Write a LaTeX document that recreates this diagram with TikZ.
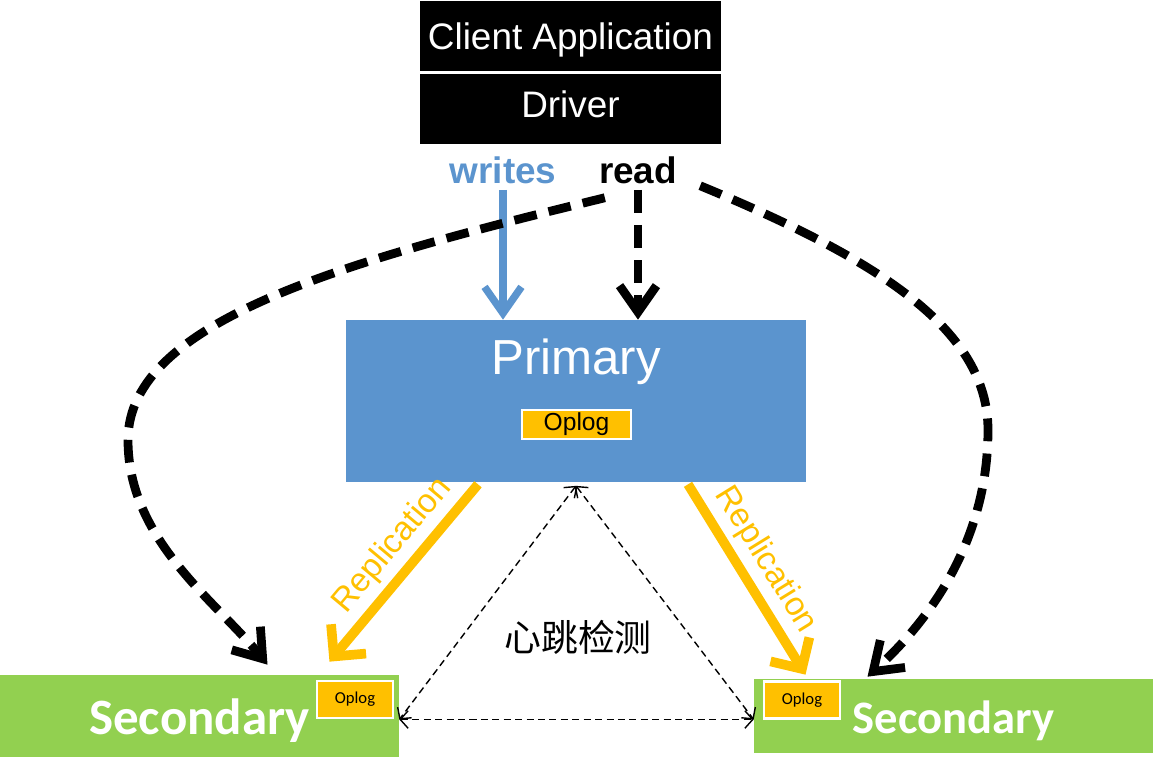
\documentclass[tikz,border=0pt]{standalone}
\usepackage{fontspec}
\setmainfont{Liberation Sans}
\newfontfamily\calibri{Carlito}
\newfontfamily\cjk{Noto Sans CJK SC}
\usetikzlibrary{arrows.meta, positioning}

\definecolor{primblue}{RGB}{91,148,206}
\definecolor{secgreen}{RGB}{146,208,80}
\definecolor{logyellow}{RGB}{255,192,0}

\begin{document}
\begin{tikzpicture}[x=0.02cm, y=-0.02cm,
    clientbox/.style={rectangle, fill=black, draw=white, line width=1pt, text=white, minimum width=6.06cm, minimum height=1.43cm, font=\fontsize{21}{25}\selectfont},
    primbox/.style={rectangle, fill=primblue, minimum width=9.2cm, minimum height=3.24cm},
    secbox/.style={rectangle, fill=secgreen, minimum width=7.98cm, text=white, text depth=0pt, font=\calibri\bfseries},
    oplog/.style={rectangle, fill=logyellow, draw=white, line width=1.2pt, text=black, inner sep=0pt},
    writearrow/.style={draw=primblue, line width=4.2pt, >={Straight Barb[length=15pt,width=21pt]}, ->},
    readarrow/.style={line width=5pt, dash pattern=on 13pt off 7pt, >={Straight Barb[length=15pt,width=21pt]}, ->},
    reparrow/.style={draw=logyellow, line width=5.5pt, >={Straight Barb[length=13pt,width=26pt]}, ->},
    beat/.style={line width=0.8pt, dash pattern=on 4pt off 2.5pt, >={Straight Barb[length=4.5pt,width=10pt]}, <->},
    replabel/.style={sloped, above, text=logyellow, font=\fontsize{19}{22}\selectfont}
]
\useasboundingbox (0,0) rectangle (1153,770);

\node[clientbox, text depth=0pt] (client) at (570.5,36) {Client Application};
\node[clientbox, text depth=6pt, below=0pt of client] (driver) {Driver};

\node[text=primblue, font=\bfseries\fontsize{21}{25}\selectfont] (writes) at (503,170) {writes};
\node[font=\bfseries\fontsize{21}{25}\selectfont] (read) at (638,170) {read};

\node[primbox] (primary) at (576,401) {};
\node[text=white, font=\fontsize{28}{33}\selectfont] (primtitle) at (576,362) {Primary};
\node[oplog, minimum width=2.18cm, minimum height=0.58cm, font=\fontsize{14}{16}\selectfont] (primlog) at (576.5,424.5) {Oplog};

\node[secbox, minimum height=1.64cm, text height=21.5pt, font=\calibri\bfseries\fontsize{29}{34}\selectfont] (secL) at (199.5,716) {Secondary};
\node[oplog, minimum width=1.52cm, minimum height=0.74cm, font=\calibri\fontsize{9.5}{11}\selectfont] (logL) at (355,699.5) {Oplog};
\node[secbox, minimum height=1.48cm, text height=19.5pt, font=\calibri\bfseries\fontsize{26.5}{31}\selectfont] (secR) at (953.5,716) {Secondary};
\node[oplog, minimum width=1.52cm, minimum height=0.74cm, font=\calibri\fontsize{9.5}{11}\selectfont] (logR) at (802,700) {Oplog};

\draw[writearrow] (writes.south) -- (writes.south |- primary.north);
\draw[readarrow] (read.south) -- (read.south |- primary.north);
\draw[readarrow] ([shift={(12,8)}]read.south west) .. controls (350,260) and (128,320) .. (128,440)
    .. controls (128,540) and (215,600) .. ([shift={(68,-10)}]secL.north);
\draw[readarrow] ([shift={(17,-4)}]read.south east) .. controls (880,260) and (988,330) .. (988,430)
    .. controls (988,540) and (930,620) .. ([shift={(-86,-2)}]secR.north);

\draw[reparrow] ([shift={(-98,2)}]primary.south) -- node[replabel, pos=0.44]{Replication} ([shift={(130,-13)}]secL.north);
\draw[reparrow] ([shift={(112,2)}]primary.south) -- node[replabel, pos=0.47]{Replication} ([shift={(-148,-4)}]secR.north);

\draw[beat] ([yshift=-2]primary.south) -- ([yshift=-2]secL.east);
\draw[beat] ([yshift=-2]primary.south) -- ([yshift=-2]secR.west);
\draw[beat] ([yshift=-2]secL.east) -- ([yshift=-2]secR.west);
\node[font=\cjk\fontsize{21}{25}\selectfont] (heartbeat) at (578,637) {心跳检测};
\end{tikzpicture}
\end{document}
